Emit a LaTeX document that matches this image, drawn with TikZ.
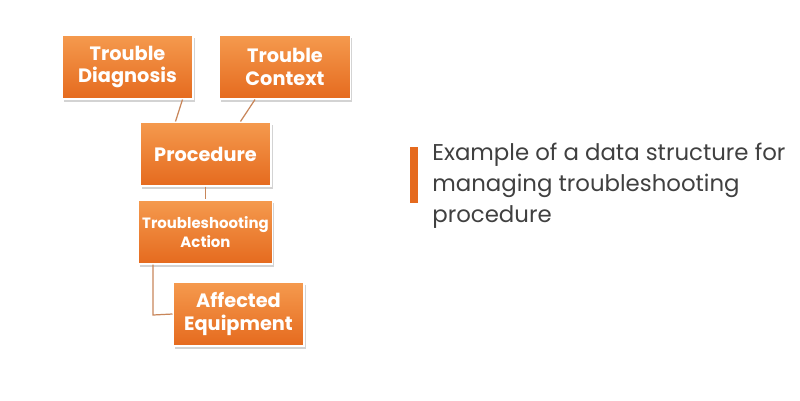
\documentclass[tikz,border=0pt]{standalone}
\usepackage{fontspec}
\setmainfont{Poppins}
\usetikzlibrary{positioning}
\usetikzlibrary{shadows}
\definecolor{orgtop}{HTML}{F59A4E}
\definecolor{orgbot}{HTML}{E56A1E}
\definecolor{linktan}{HTML}{C8865A}
\definecolor{txtgray}{HTML}{404040}

\begin{document}
\begin{tikzpicture}[
  x=0.02cm, y=-0.02cm,
  box/.style={draw=white, line width=0.6pt, top color=orgtop, bottom color=orgbot,
    minimum width=2.62cm, minimum height=1.28cm, align=center, text=white,
    font=\bfseries\fontsize{11}{13}\selectfont, inner sep=2pt,
    drop shadow={shadow xshift=1pt, shadow yshift=-1.5pt, opacity=0.35}},
  link/.style={draw=linktan, line width=0.7pt}
]

\useasboundingbox (0,0) rectangle (800,400);

% Boxes
\node[box] (diag) at (127.5,67) {Trouble\\Diagnosis};
\node[box] (ctx) at (285,67) {Trouble\\Context};
\node[box] (proc) at (205.5,154) {Procedure};
\node[box, font=\bfseries\fontsize{8.5}{11}\selectfont] (act) at (205.5,232) {Troubleshooting\\Action};
\node[box] (equip) at (238.5,314) {Affected\\Equipment};

% Connectors
\draw[link] ([xshift=1.1cm]diag.south) -- ([xshift=-0.6cm]proc.north);
\draw[link] ([xshift=-0.6cm]ctx.south) -- ([xshift=0.7cm]proc.north);
\draw[link] (proc.south) -- (act.north);
\coordinate (bend) at (153,315);
\draw[link] ([xshift=-1.05cm]act.south) -- (bend) -- (equip.west);

% Caption
\fill[orgbot] (410,147) rectangle (418,203) coordinate (bar);
\node[anchor=north west, align=left, text=txtgray, inner sep=0pt,
  font=\fontsize{13}{17.5}\selectfont] (cap) at (432,143)
  {Example of a data structure for\\managing troubleshooting\\procedure};

\end{tikzpicture}
\end{document}
